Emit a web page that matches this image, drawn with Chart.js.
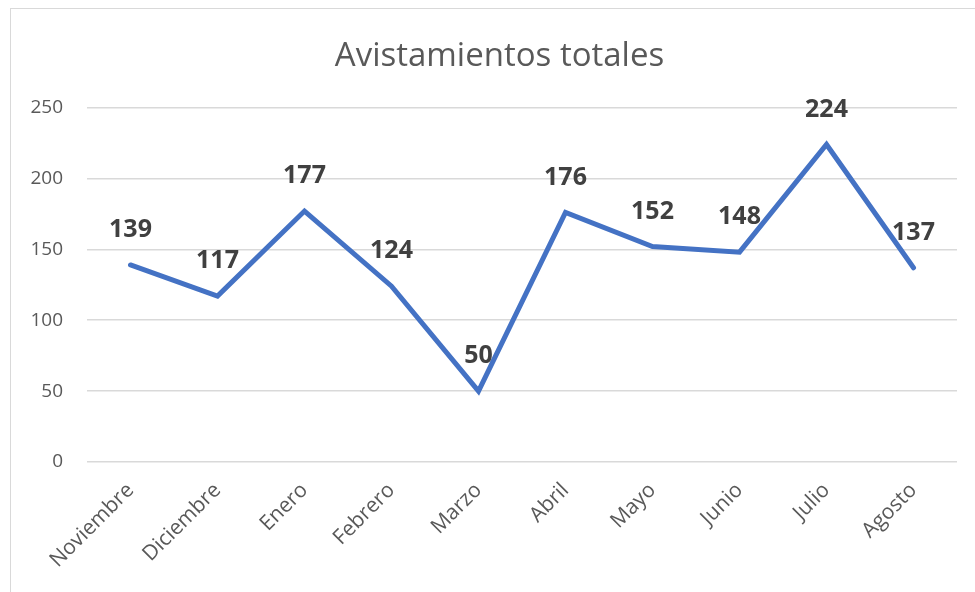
<!DOCTYPE html>
<html>
<head>
<meta charset="utf-8">
<script src="https://cdn.jsdelivr.net/npm/chart.js@4"></script>
<style>
  html, body { margin: 0; padding: 0; background: #fff; overflow: hidden; width: 975px; height: 592px; }
  #frame { position: absolute; left: 10px; top: 8px; width: 1000px; height: 700px; border: 1px solid #d9d9d9; }
  #c { position: absolute; left: 0; top: 0; }
</style>
</head>
<body>
<div id="frame"><canvas id="c" width="977" height="583"></canvas></div>
<script>
const chartTitle = 'Avistamientos totales';
const categories = ['Noviembre', 'Diciembre', 'Enero', 'Febrero', 'Marzo', 'Abril', 'Mayo', 'Junio', 'Julio', 'Agosto'];
const sightings = [139, 117, 177, 124, 50, 176, 152, 148, 224, 137];
const yTicks = [0, 50, 100, 150, 200, 250];

const FONT = '"Open Sans", "Liberation Sans", sans-serif';

const valueLabels = {
  id: 'valueLabels',
  afterDatasetsDraw(chart) {
    const ctx = chart.ctx;
    const meta = chart.getDatasetMeta(0);
    ctx.save();
    ctx.font = 'bold 25px ' + FONT;
    ctx.fillStyle = '#404040';
    ctx.textAlign = 'center';
    ctx.textBaseline = 'middle';
    meta.data.forEach((pt, i) => {
      ctx.fillText(String(sightings[i]), pt.x, pt.y - 35);
    });
    ctx.restore();
  }
};

new Chart(document.getElementById('c'), {
  type: 'line',
  data: {
    labels: categories,
    datasets: [{
      data: sightings,
      yAxisID: 'y',
      borderColor: '#4472C4',
      borderWidth: 5,
      borderCapStyle: 'round',
      borderJoinStyle: 'miter',
      pointRadius: 0,
      pointHoverRadius: 0,
      tension: 0,
      fill: false,
      clip: false
    }]
  },
  options: {
    responsive: false,
    animation: false,
    events: [],
    layout: { padding: 0 },
    plugins: {
      legend: { display: false },
      tooltip: { enabled: false },
      title: {
        display: true,
        text: chartTitle,
        color: '#595959',
        font: { family: FONT, size: 33, weight: 'normal', lineHeight: 1.2 },
        padding: { top: 28, bottom: 31 }
      }
    },
    scales: {
      x: {
        offset: true,
        grid: { display: false, drawTicks: false },
        border: { display: false },
        ticks: {
          autoSkip: false,
          minRotation: 45,
          maxRotation: 45,
          padding: 16,
          color: '#595959',
          font: { family: FONT, size: 21 }
        },
        afterFit(scale) { scale.height = 130; }
      },
      y: {
        position: 'left',
        min: 0,
        max: 250,
        afterBuildTicks(scale) { scale.ticks = yTicks.map(v => ({ value: v })); },
        grid: { color: '#d9d9d9', lineWidth: 1.5, drawTicks: false },
        border: { display: false },
        ticks: {
          padding: 24,
          color: '#595959',
          font: { family: FONT, size: 19 }
        },
        afterFit(scale) { scale.width = 76; }
      },
      spacer: {
        type: 'linear',
        position: 'right',
        display: true,
        grid: { display: false, drawTicks: false },
        border: { display: false },
        ticks: { display: false },
        afterFit(scale) { scale.width = 31; }
      }
    }
  },
  plugins: [valueLabels]
});
</script>
</body>
</html>
